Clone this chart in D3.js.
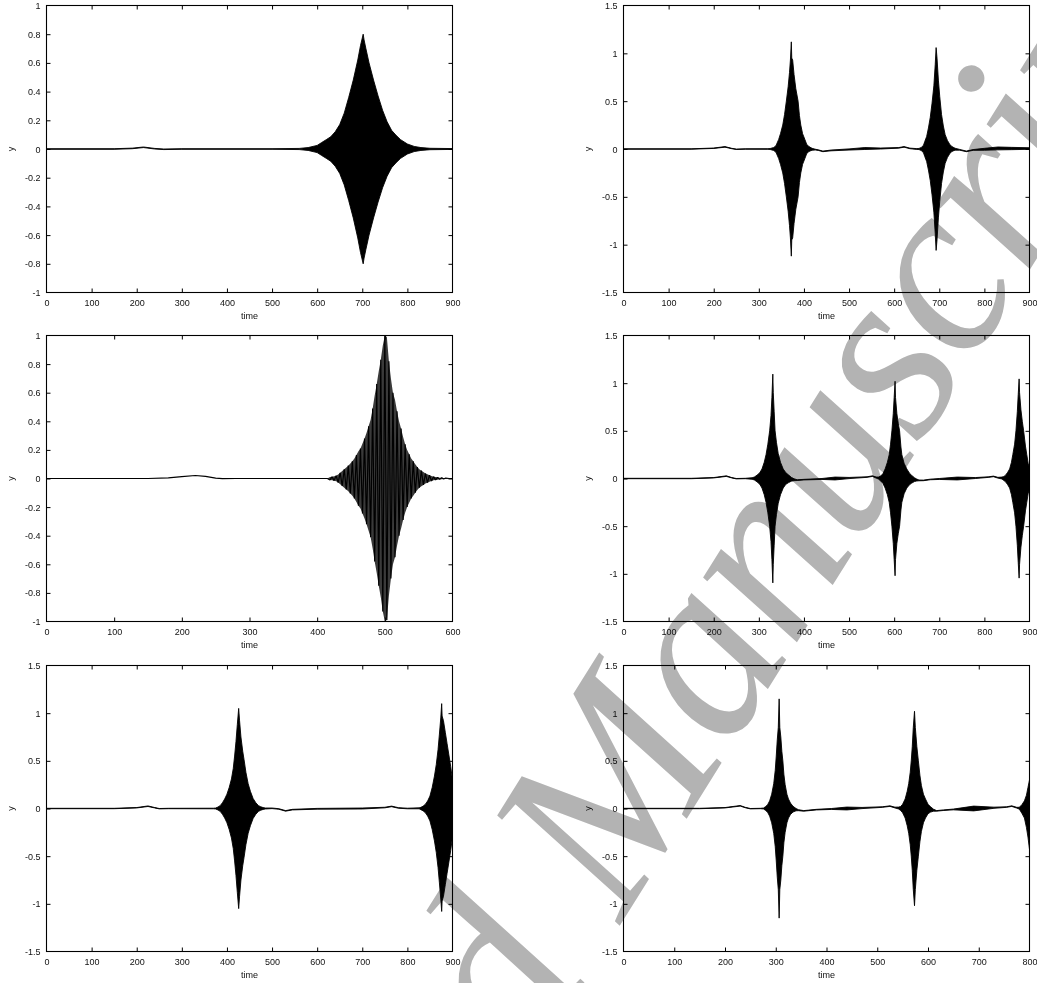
<!DOCTYPE html>
<html><head><meta charset="utf-8">
<script src="https://cdn.jsdelivr.net/npm/d3@7"></script>
<style>
body{margin:0;background:#fff;}
svg{display:block;}
</style></head><body>
<svg id="chart" width="1037" height="983"></svg>
<script>
// ---------------- DATA ----------------
// Tick labels
const xTicks900 = [0,100,200,300,400,500,600,700,800,900];
const xTicks600 = [0,100,200,300,400,500,600];
const xTicks800 = [0,100,200,300,400,500,600,700,800];
const yTicks1 = [-1,-0.8,-0.6,-0.4,-0.2,0,0.2,0.4,0.6,0.8,1];
const yTicks15 = [-1.5,-1,-0.5,0,0.5,1,1.5];
const xLabel = "time";
const yLabel = "y";

// Panel 1 (top-left): envelope of the dense oscillation (centre, half-amplitude)
const p1Time   = [0,150,190,215,240,260,300,500,560,580,600,610,620,630,640,650,660,670,680,690,696,702,704,708,715,725,735,745,755,765,775,785,800,815,830,850,900];
const p1Center = [0,0,0.004,0.012,0.002,-0.002,0,0,0,0,0,0,0,0,0,0,0,0,0,0,0,0,0,0,0,0,0,0,0,0,0,0,0,0,0,0,0];
const p1Amp    = [0.002,0.002,0.002,0.002,0.002,0.002,0.002,0.002,0.004,0.01,0.025,0.045,0.065,0.085,0.12,0.17,0.25,0.36,0.48,0.62,0.72,0.80,0.76,0.70,0.60,0.48,0.37,0.27,0.19,0.13,0.095,0.065,0.035,0.018,0.01,0.005,0.003];

// Panel 2 (top-right)
const p2Time   = [0,150,200,225,240,250,270,320,325,333,338,344,348,353,357,361,365,368,370,372,373,375,378,382,387,390,393,397,402,406,411,418,425,432,442,460,500,535,570,610,622,635,650,655,660,665,668,672,676,680,684,688,691,693,695,698,701,705,709,713,718,723,728,735,745,760,775,800,830,860,900];
const p2Center = [0,0,0.008,0.022,0.005,-0.003,0,0,0,0,0,0,0,0,0,0,0,0,0,0,0,0,0,0,0,0,0,0,0,0,0,-0.003,-0.006,-0.012,-0.025,-0.015,-0.005,0.005,0.005,0.012,0.022,0.006,0,0,0,0,0,0,0,0,0,0,0,0,0,0,0,0,0,0,0,0,0,-0.002,-0.008,-0.025,-0.01,-0.003,0.006,0.005,0.005];
const p2Amp    = [0.002,0.002,0.002,0.003,0.002,0.002,0.002,0.003,0.005,0.015,0.035,0.1,0.16,0.25,0.36,0.5,0.65,0.8,0.93,1.12,0.95,0.93,0.78,0.63,0.5,0.35,0.25,0.16,0.1,0.05,0.025,0.01,0.004,0.003,0.003,0.004,0.006,0.01,0.005,0.003,0.003,0.003,0.004,0.006,0.015,0.04,0.08,0.13,0.22,0.33,0.48,0.66,0.88,1.06,0.95,0.72,0.55,0.36,0.24,0.15,0.09,0.05,0.025,0.01,0.004,0.003,0.004,0.01,0.015,0.012,0.008];

// Panel 3 (middle-left): slow baseline then the individual oscillation extrema
const p3Time  = [0,150,180,200,220,235,250,260,280,415,
  419,422,425,428,431,434,437,440,443,446,449,452,455,458,461,464,467,470,473,476,479,482,485,488,491,494,497,500,
  503,506,509,512,515,518,521,524,527,530,533,536,539,542,545,548,551,554,557,560,563,566,569,572,575,578,581,584,587,590,595,600];
const p3Value = [0,0,0.005,0.013,0.021,0.015,0.002,-0.001,0,0,
  -0.01,0.012,-0.015,0.02,-0.028,0.04,-0.052,0.065,-0.077,0.09,-0.105,0.12,-0.14,0.165,-0.19,0.21,-0.245,0.28,-0.32,0.365,-0.41,0.49,-0.58,0.66,-0.75,0.83,-0.93,1.0,
  -0.99,0.82,-0.7,0.6,-0.55,0.47,-0.4,0.35,-0.29,0.24,-0.2,0.17,-0.14,0.12,-0.1,0.08,-0.065,0.055,-0.045,0.035,-0.029,0.023,-0.017,0.013,-0.01,0.008,-0.006,0.005,-0.004,0.003,0,0];

// Panel 4 (middle-right)
const p4Time   = [0,150,200,228,240,250,270,285,290,296,302,307,312,316,320,324,327,329,331,332,334,336,339,343,348,354,360,366,372,378,385,400,440,469,500,540,552,560,565,570,575,580,585,589,592,595,598,600,602,603,606,609,612,615,617,622,628,634,639,645,650,655,665,680,700,740,780,810,820,830,839,843,846,851,856,860,863,867,870,873,875,877,878,881,884,887,891,894,897,900];
const p4Center = [0,0,0.008,0.025,0.008,-0.002,0,0,0,0,0,0,0,0,0,0,0,0,0,0,0,0,0,0,0,0,0,-0.003,-0.008,-0.013,-0.017,-0.012,-0.005,0,0.005,0.015,0.025,0.01,0.005,0,0,0,0,0,0,0,0,0,0,0,0,0,0,0,0,0,0,-0.005,-0.008,-0.012,-0.016,-0.02,-0.02,-0.01,-0.005,0,0.005,0.015,0.022,0.008,0.005,0,0,0,0,0,0,0,0,0,0,0,0,0,0,0,0,0,0,0];
const p4Amp    = [0.002,0.002,0.002,0.003,0.002,0.002,0.002,0.008,0.015,0.035,0.06,0.1,0.17,0.25,0.36,0.5,0.66,0.85,1.095,0.9,0.7,0.5,0.38,0.26,0.17,0.1,0.06,0.04,0.02,0.01,0.004,0.003,0.005,0.015,0.006,0.003,0.003,0.006,0.01,0.025,0.05,0.1,0.17,0.25,0.36,0.5,0.68,0.85,1.02,0.85,0.68,0.58,0.5,0.33,0.25,0.16,0.1,0.06,0.04,0.02,0.01,0.004,0.003,0.003,0.005,0.015,0.005,0.003,0.003,0.004,0.01,0.02,0.03,0.06,0.1,0.17,0.25,0.36,0.5,0.7,0.88,1.045,0.9,0.72,0.6,0.5,0.34,0.25,0.16,0.12];

// Panel 5 (bottom-left)
const p5Time   = [0,150,200,225,240,250,270,370,375,380,385,390,395,400,405,410,414,417,420,423,426,428,431,435,438,442,447,452,458,464,470,475,480,485,500,515,530,545,600,700,750,765,780,800,826,830,835,840,845,850,855,860,864,868,871,874,876,877,880,884,888,892,896,900];
const p5Center = [0,0,0.008,0.024,0.008,-0.002,0,0,0,0,0,0,0,0,0,0,0,0,0,0,0,0,0,0,0,0,0,0,0,0,0,0,0,0,0.002,-0.005,-0.025,-0.012,-0.003,0,0.01,0.022,0.006,0,0.002,0,0,0,0,0,0,0,0,0,0,0,0.01,0,0,0,0,0,0,0];
const p5Amp    = [0.002,0.002,0.002,0.003,0.002,0.002,0.002,0.003,0.005,0.015,0.03,0.06,0.1,0.15,0.22,0.31,0.42,0.55,0.7,0.88,1.05,0.92,0.75,0.6,0.51,0.38,0.26,0.18,0.105,0.06,0.03,0.018,0.01,0.005,0.003,0.003,0.003,0.003,0.004,0.005,0.003,0.003,0.003,0.003,0.005,0.012,0.025,0.045,0.08,0.13,0.22,0.34,0.46,0.62,0.78,0.95,1.09,0.97,0.92,0.8,0.68,0.56,0.44,0.3];

// Panel 6 (bottom-right)
const p6Time   = [0,150,200,230,240,250,270,276,280,284,288,292,296,299,301,303,305,306.7,308,310,312,314,316,318.5,322,325,329,334,340,345,355,365,380,410,440,470,510,525,535,542,546,550,555,559,562,565,567,569,571,573.4,575,578,581,584,587,591,595,600,605,611,617,630,650,690,730,755,765,775,780,785,790,794,797,800];
const p6Center = [0,0,0.008,0.028,0.01,-0.002,0,0,0,0,0,0,0,0,0,0,0,0,0,0,0,0,0,0,0,0,-0.003,-0.007,-0.012,-0.018,-0.025,-0.02,-0.012,-0.005,0,0.005,0.015,0.025,0.01,0.005,0,0,0,0,0,0,0,0,0,0,0,0,0,0,0,0,0,-0.005,-0.01,-0.018,-0.025,-0.018,-0.01,0,0.008,0.015,0.025,0.008,0.003,-0.005,-0.01,-0.03,-0.04,-0.065];
const p6Amp    = [0.002,0.002,0.002,0.003,0.002,0.002,0.002,0.005,0.02,0.04,0.08,0.15,0.26,0.4,0.55,0.72,0.85,1.15,0.85,0.75,0.6,0.5,0.36,0.25,0.15,0.1,0.06,0.03,0.012,0.005,0.003,0.003,0.003,0.005,0.015,0.006,0.003,0.003,0.004,0.01,0.02,0.045,0.1,0.18,0.26,0.38,0.5,0.65,0.85,1.02,0.85,0.65,0.5,0.35,0.24,0.15,0.1,0.05,0.028,0.01,0.003,0.003,0.004,0.025,0.006,0.003,0.003,0.004,0.01,0.045,0.09,0.17,0.26,0.365];

const watermarkText = "Accepted Manuscript";

// ---------------- LAYOUT ----------------
const svg = d3.select("#chart");
const colL = [46.5, 452.5], colR = [623.5, 1029.5];
const rows = [[5.5, 292.5], [335.5, 621.5], [665.5, 951.5]];

const panels = [
  {col: colL, row: rows[0], kind: "band", t: p1Time, c: p1Center, a: p1Amp, xd: [0,900], xt: xTicks900, yd: [-1,1], yt: yTicks1},
  {col: colR, row: rows[0], kind: "band", t: p2Time, c: p2Center, a: p2Amp, xd: [0,900], xt: xTicks900, yd: [-1.5,1.5], yt: yTicks15},
  {col: colL, row: rows[1], kind: "line", t: p3Time, v: p3Value, xd: [0,600], xt: xTicks600, yd: [-1,1], yt: yTicks1},
  {col: colR, row: rows[1], kind: "band", t: p4Time, c: p4Center, a: p4Amp, xd: [0,900], xt: xTicks900, yd: [-1.5,1.5], yt: yTicks15},
  {col: colL, row: rows[2], kind: "band", t: p5Time, c: p5Center, a: p5Amp, xd: [0,900], xt: xTicks900, yd: [-1.5,1.5], yt: yTicks15},
  {col: colR, row: rows[2], kind: "band", t: p6Time, c: p6Center, a: p6Amp, xd: [0,800], xt: xTicks800, yd: [-1.5,1.5], yt: yTicks15},
];

const fontFam = "'Liberation Sans', Arial, Helvetica, sans-serif";
const fmt = d => String(Math.round(d * 10) / 10);

panels.forEach((p, i) => {
  const [L, R] = p.col, [T, B] = p.row;
  const x = d3.scaleLinear().domain(p.xd).range([L, R]);
  const y = d3.scaleLinear().domain(p.yd).range([B, T]);
  const g = svg.append("g");

  const clipId = "clip" + i;
  svg.append("clipPath").attr("id", clipId).append("rect")
    .attr("x", L).attr("y", T).attr("width", R - L).attr("height", B - T);

  const dg = g.append("g").attr("clip-path", `url(#${clipId})`);
  if (p.kind === "band") {
    const rowsD = p.t.map((t, k) => ({t, hi: p.c[k] + p.a[k], lo: p.c[k] - p.a[k]}));
    dg.append("path").datum(rowsD)
      .attr("d", d3.area().x(d => x(d.t)).y0(d => y(d.lo)).y1(d => y(d.hi)))
      .attr("fill", "#000").attr("stroke", "#000").attr("stroke-width", 0.9)
      .attr("stroke-linejoin", "round");
  } else {
    const pts = p.t.map((t, k) => ({t, v: p.v[k]}));
    // dense oscillation: envelope shaded dark, individual swings drawn on top
    const burst = pts.filter(d => d.t >= 415);
    dg.append("path").datum(burst)
      .attr("d", d3.area().x(d => x(d.t)).y0(d => y(-Math.abs(d.v))).y1(d => y(Math.abs(d.v))))
      .attr("fill", "#3a3a3a").attr("stroke", "none");
    dg.append("path").datum(pts)
      .attr("d", d3.line().x(d => x(d.t)).y(d => y(d.v)))
      .attr("fill", "none").attr("stroke", "#000").attr("stroke-width", 1.2)
      .attr("stroke-linejoin", "bevel");
  }

  // axes (gnuplot style inward ticks, mirrored)
  const styleAxis = sel => {
    sel.attr("color", "#000").attr("font-family", fontFam).attr("font-size", 9);
    sel.select(".domain").remove();
  };
  const ax = g.append("g").attr("transform", `translate(0,${B})`)
    .call(d3.axisBottom(x).tickValues(p.xt).tickFormat(fmt).tickSize(-4).tickSizeOuter(0));
  styleAxis(ax);
  ax.selectAll("text").attr("y", 13).attr("dy", null).attr("fill", "#111");
  ax.selectAll(".tick").filter(d => d === p.xd[0] || d === p.xd[1]).select("line").remove();

  const axT = g.append("g").attr("transform", `translate(0,${T})`)
    .call(d3.axisTop(x).tickValues(p.xt).tickFormat("").tickSize(-4).tickSizeOuter(0));
  styleAxis(axT);
  axT.selectAll(".tick").filter(d => d === p.xd[0] || d === p.xd[1]).select("line").remove();

  const ay = g.append("g").attr("transform", `translate(${L},0)`)
    .call(d3.axisLeft(y).tickValues(p.yt).tickFormat(fmt).tickSize(-4).tickSizeOuter(0));
  styleAxis(ay);
  ay.selectAll("text").attr("x", -6).attr("dy", "0.34em").attr("fill", "#111");
  ay.selectAll(".tick").filter(d => d === p.yd[0] || d === p.yd[1]).select("line").remove();

  const ayR = g.append("g").attr("transform", `translate(${R},0)`)
    .call(d3.axisRight(y).tickValues(p.yt).tickFormat("").tickSize(-4).tickSizeOuter(0));
  styleAxis(ayR);
  ayR.selectAll(".tick").filter(d => d === p.yd[0] || d === p.yd[1]).select("line").remove();

  // frame
  g.append("rect").attr("x", L).attr("y", T).attr("width", R - L).attr("height", B - T)
    .attr("fill", "none").attr("stroke", "#000").attr("stroke-width", 1.1);

  // axis titles
  g.append("text").attr("x", (L + R) / 2).attr("y", B + 26).attr("text-anchor", "middle")
    .attr("font-family", fontFam).attr("font-size", 9).attr("fill", "#111").text(xLabel);
  const yl = L - 35.5;
  g.append("text").attr("transform", `translate(${yl},${(T + B) / 2}) rotate(-90)`)
    .attr("text-anchor", "middle").attr("dy", "0.3em")
    .attr("font-family", fontFam).attr("font-size", 9).attr("fill", "#111").text(yLabel);
});

// watermark
const WM = {x: 126, y: 1716, angle: -58, size: 248, spacing: -4};
svg.append("text")
  .attr("transform", `translate(${WM.x},${WM.y}) rotate(${WM.angle})`)
  .attr("font-family", "'Liberation Serif', 'Times New Roman', serif")
  .attr("font-style", "italic").attr("font-size", WM.size)
  .attr("letter-spacing", WM.spacing)
  .attr("fill", "#b3b3b3").style("mix-blend-mode", "multiply")
  .text(watermarkText);
</script>
</body></html>
